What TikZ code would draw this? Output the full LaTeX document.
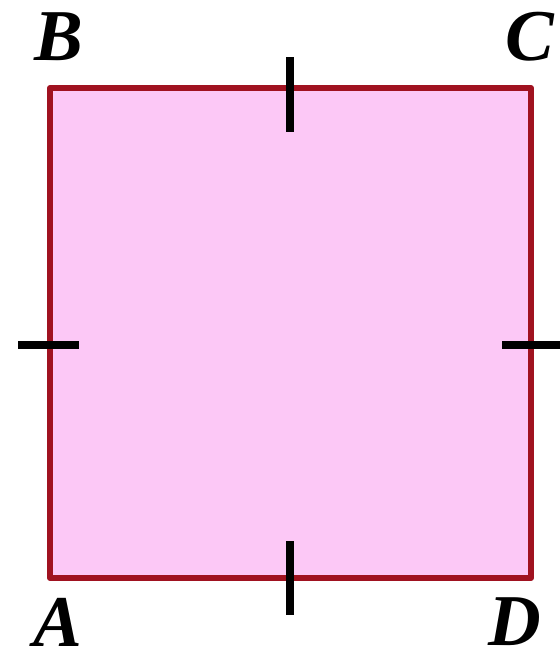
\documentclass[tikz,border=0pt]{standalone}
\usepackage{fontspec}
\setmainfont{Liberation Serif}
\definecolor{sqfill}{RGB}{252,200,246}
\definecolor{sqedge}{RGB}{160,18,32}
\begin{document}
\begin{tikzpicture}[x=1pt,y=-1pt,
  lbl/.style={inner sep=0pt,font=\fontsize{73}{73}\selectfont\bfseries\itshape},
  tick/.style={line width=8pt,black},
  sq/.style={draw=sqedge,fill=sqfill,line width=6pt,line join=round}]
\useasboundingbox (0,0) rectangle (560,654);
\coordinate (A) at (50,578);
\coordinate (B) at (50,88);
\coordinate (C) at (531,88);
\coordinate (D) at (531,578);
\draw[sq] (A) -- (B) -- (C) -- (D) -- cycle;
\coordinate (t1) at (290,57);  \coordinate (t2) at (290,132);
\coordinate (b1) at (290,541); \coordinate (b2) at (290,615);
\coordinate (l1) at (18,345);  \coordinate (l2) at (79,345);
\coordinate (r1) at (502,345); \coordinate (r2) at (562,345);
\draw[tick] (t1) -- (t2);
\draw[tick] (b1) -- (b2);
\draw[tick] (l1) -- (l2);
\draw[tick] (r1) -- (r2);
\node[lbl] (nB) at (59,37) {B};
\node[lbl] (nC) at (530,37) {C};
\node[lbl] (nA) at (58,622) {A};
\node[lbl] (nD) at (515,622) {D};
\end{tikzpicture}
\end{document}
